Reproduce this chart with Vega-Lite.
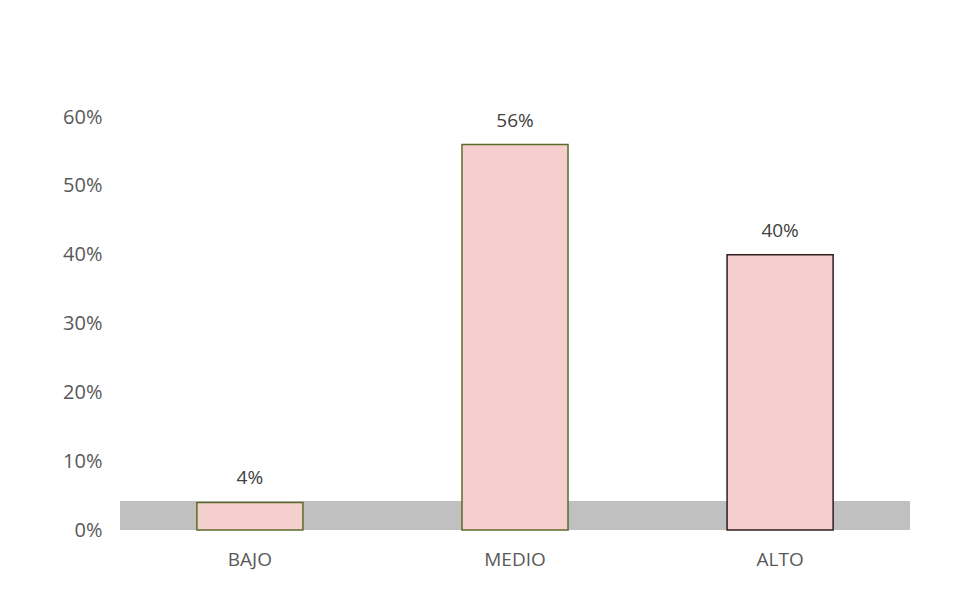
{
  "$schema": "https://vega.github.io/schema/vega-lite/v6.json",
  "autosize": "none",
  "width": 790,
  "height": 413,
  "padding": {"left": 120, "top": 117, "right": 50, "bottom": 60},
  "background": "white",
  "config": {"view": {"stroke": null}, "font": "Open Sans"},
  "data": {"values": [
    {"nivel": "BAJO", "pct": 0.04, "label": "4%"},
    {"nivel": "MEDIO", "pct": 0.56, "label": "56%"},
    {"nivel": "ALTO", "pct": 0.40, "label": "40%"}
  ]},
  "encoding": {
    "x": {"field": "nivel", "type": "nominal", "sort": ["BAJO", "MEDIO", "ALTO"],
      "scale": {"paddingInner": 0.6, "paddingOuter": 0.29},
      "axis": {"title": null, "labelAngle": 0, "domain": false, "ticks": false, "labelPadding": 20, "labelFontSize": 19, "labelColor": "#595959", "labelFont": "Open Sans"}},
    "y": {"field": "pct", "type": "quantitative",
      "scale": {"domain": [0, 0.6], "nice": false},
      "axis": {"title": null, "format": ".0%", "values": [0, 0.1, 0.2, 0.3, 0.4, 0.5, 0.6], "grid": false, "domain": false, "ticks": false, "labelPadding": 18, "labelFontSize": 20, "labelColor": "#595959", "labelFont": "Open Sans"}}
  },
  "layer": [
    {
      "mark": {"type": "rect", "color": "#c0c0c0"},
      "encoding": {"x": null, "y": {"datum": 0}, "y2": {"datum": 0.042}}
    },
    {
      "mark": {"type": "bar", "fill": "#f5cece", "strokeWidth": 1.5},
      "encoding": {
        "stroke": {"field": "nivel", "type": "nominal", "scale": {"domain": ["BAJO", "MEDIO", "ALTO"], "range": ["#5b6b2b", "#5b6b2b", "#2e1e1e"]}, "legend": null}
      }
    },
    {
      "mark": {"type": "text", "dy": -24, "fontSize": 19, "color": "#404040", "font": "Open Sans"},
      "encoding": {"text": {"field": "label"}}
    }
  ]
}
